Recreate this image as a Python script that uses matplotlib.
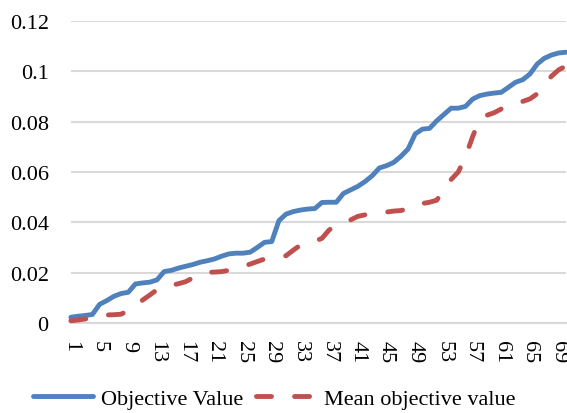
import matplotlib
matplotlib.use("Agg")
import matplotlib.pyplot as plt
from matplotlib.ticker import FixedLocator

plt.rcParams['font.family'] = ['Liberation Serif', 'DejaVu Serif']
plt.rcParams['lines.scale_dashes'] = False

x_vals = list(range(1, 71))
objective_value = [
    0.0024, 0.0028, 0.0031, 0.0035, 0.0075, 0.0090, 0.0107, 0.0118, 0.0123, 0.0156,
    0.0160, 0.0163, 0.0172, 0.0205, 0.0210, 0.0219, 0.0226, 0.0233, 0.0242, 0.0248,
    0.0255, 0.0266, 0.0275, 0.0278, 0.0278, 0.0282, 0.0301, 0.0321, 0.0324, 0.0407,
    0.0433, 0.0443, 0.0449, 0.0453, 0.0455, 0.0479, 0.0480, 0.0480, 0.0515, 0.0529,
    0.0543, 0.0562, 0.0585, 0.0616, 0.0625, 0.0638, 0.0662, 0.0691, 0.0751, 0.0770,
    0.0773, 0.0803, 0.0828, 0.0853, 0.0853, 0.0860, 0.0889, 0.0903, 0.0909, 0.0913,
    0.0916, 0.0936, 0.0956, 0.0966, 0.0989, 0.1028, 0.1051, 0.1064, 0.1072, 0.1075,
]
mean_objective = [
    0.0010, 0.0013, 0.0017, 0.0022, 0.0028, 0.0033, 0.0034, 0.0036, 0.0051, 0.0072,
    0.0092, 0.0112, 0.0133, 0.0145, 0.0150, 0.0157, 0.0165, 0.0180, 0.0195, 0.0202,
    0.0203, 0.0205, 0.0210, 0.0218, 0.0225, 0.0235, 0.0245, 0.0255, 0.0258, 0.0263,
    0.0268, 0.0290, 0.0310, 0.0318, 0.0325, 0.0337, 0.0370, 0.0390, 0.0402, 0.0410,
    0.0424, 0.0430, 0.0435, 0.0438, 0.0441, 0.0445, 0.0447, 0.0455, 0.0470, 0.0475,
    0.0480, 0.0488, 0.0530, 0.0570, 0.0600, 0.0660, 0.0740, 0.0810, 0.0825, 0.0835,
    0.0850, 0.0862, 0.0870, 0.0880, 0.0890, 0.0910, 0.0945, 0.0980, 0.1005, 0.1020,
]
x_ticks = list(range(1, 71, 4))
y_ticks = [0, 0.02, 0.04, 0.06, 0.08, 0.10, 0.12]
y_labels = ["0", "0.02", "0.04", "0.06", "0.08", "0.1", "0.12"]
series_names = ["Objective Value", "Mean objective value"]

blue = "#4F81BD"
red = "#C0504D"
grid_c = "#D9D9D9"

fig = plt.figure(figsize=(5.67, 4.14), dpi=100)
ax = fig.add_axes([0.125, 0.2167, 0.873, 0.7309])

ax.plot(x_vals, objective_value, color=blue, lw=3.5, solid_capstyle='round',
        solid_joinstyle='round', label=series_names[0], clip_on=False, zorder=3)
ax.plot(x_vals, mean_objective, color=red, lw=3.5, dashes=(10.8, 16.6),
        dash_capstyle='round', dash_joinstyle='round', label=series_names[1],
        clip_on=False, zorder=3)

ax.set_xlim(1, 70)
ax.set_ylim(0, 0.12)
ax.yaxis.set_major_locator(FixedLocator(y_ticks))
ax.set_yticklabels(y_labels)
ax.xaxis.set_major_locator(FixedLocator(x_ticks))
ax.set_xticklabels([str(t) for t in x_ticks], rotation=-90)

ax.grid(axis='y', color=grid_c, lw=1.5)
ax.set_axisbelow(True)
for s in ['top', 'right', 'left']:
    ax.spines[s].set_visible(False)
ax.spines['bottom'].set_color(grid_c)
ax.spines['bottom'].set_linewidth(1.5)
ax.tick_params(axis='both', length=0, labelsize=16, colors='black')
ax.tick_params(axis='y', pad=16)
ax.tick_params(axis='x', pad=12)

leg = fig.legend(loc='center', bbox_to_anchor=(0.484, 0.034), ncol=2, frameon=False,
                 fontsize=16, handlelength=2.7, handletextpad=0.35, columnspacing=0.6,
                 borderpad=0, borderaxespad=0)

fig.savefig("out.png", dpi=100)
